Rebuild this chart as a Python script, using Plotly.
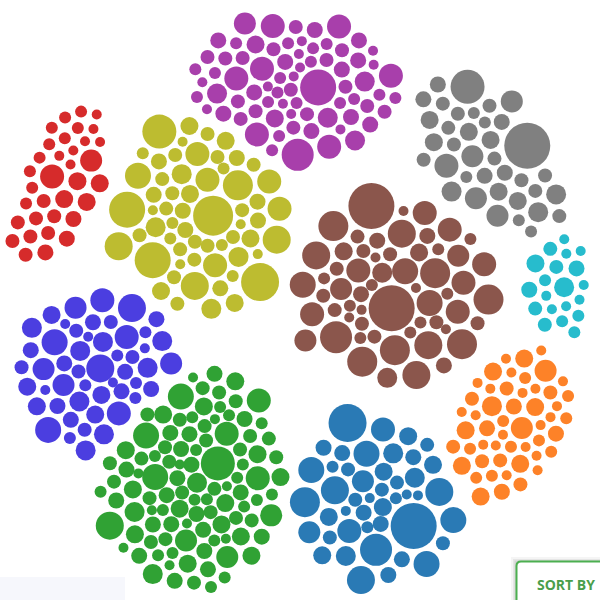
import numpy as np
import plotly.graph_objects as go

# ---------------- data: bubble values per series (radius ~ sqrt(value)) ----------------
purple_vals = [324, 256, 144, 144, 144, 144, 144, 144, 144, 121, 100, 100, 100, 100, 81, 81,
               64, 64, 64, 64, 64, 64, 64, 64, 64, 64, 64,
               49, 49, 49, 49, 49, 49, 49, 49, 49, 49, 49, 49, 49, 49, 49, 49,
               36, 36, 36, 36, 36, 36, 36, 36, 36, 36, 36, 36, 36, 36, 36, 36, 36, 36,
               25, 25, 25, 25, 25, 25, 25, 25, 25, 25, 25, 25]
gray_vals = [529, 289, 144, 121, 121, 121, 121, 100, 100, 100, 81, 81, 81, 81, 81, 81,
             64, 64, 64, 64, 64, 49, 49, 49, 49, 49, 49, 49, 49, 49, 49, 49,
             36, 36, 36, 36, 36]
red_vals = [144, 121, 81, 81, 81, 81, 64, 64, 64, 49, 49, 49, 49, 49, 49, 49, 49,
            36, 36, 36, 36, 36, 36, 36, 36, 36, 36, 25, 25, 25, 25, 25, 25, 25]
olive_vals = [400, 361, 324, 324, 289, 225, 196, 196, 196, 169, 144, 144, 144, 144, 144,
              100, 100, 100, 100, 81, 81, 81, 81, 81, 81, 64, 64, 64, 64, 64, 64, 64, 64,
              49, 49, 49, 49, 49, 49, 49, 49, 49, 49, 49, 49, 49, 49, 49, 49,
              36, 36, 36, 36, 36, 36, 25, 25, 25, 25, 25]
brown_vals = [529, 529, 256, 225, 225, 225, 225, 225, 225, 196, 196, 196, 196, 169, 169, 169,
              144, 144, 144, 144, 144, 144, 144, 121, 121, 121, 100, 100, 81, 81,
              64, 64, 64, 64, 49, 49, 49, 49, 49, 49, 49, 49, 49, 49,
              36, 36, 36, 36, 36, 36, 36, 36, 36, 25, 25, 25, 25, 25, 25]
cyan_vals = [100, 81, 64, 64, 49, 49, 49, 49, 36, 36, 36, 36, 25, 25, 25, 25, 25, 25, 25, 25]
violet_vals = [196, 196, 169, 169, 144, 144, 144, 121, 121, 121, 121, 100, 100, 100, 100, 100,
               100, 100, 100, 81, 81, 81, 81, 81, 64, 64, 64, 64, 64, 64, 64, 64, 64,
               49, 49, 49, 49, 49, 49, 36, 36, 36, 36, 36, 36, 25, 25, 25, 25, 25]
orange_vals = [121, 121, 100, 81, 81, 81, 81, 81, 81, 81, 64, 64, 64, 64,
               49, 49, 49, 49, 49, 49, 49, 36, 36, 36, 36, 36, 36, 36, 36, 36, 36,
               25, 25, 25, 25, 25, 25, 25, 25, 25, 25, 25, 25, 25, 25, 25, 25, 25, 25, 25, 25]
green_vals = [289, 196, 169, 169, 169, 144, 144, 144, 121, 121, 121, 100, 100, 100,
              81, 81, 81, 81, 81, 81, 81, 81, 81, 81, 81, 81, 81, 81,
              64, 64, 64, 64, 64, 64, 64, 64, 64, 64, 64, 64, 64, 64, 64, 64, 64, 64, 64, 64,
              49, 49, 49, 49, 49, 49, 49, 49, 49, 49, 49, 49, 49, 49, 49, 49, 49, 49, 49, 49,
              49, 49, 49, 49, 49,
              36, 36, 36, 36, 36, 36, 36, 36, 36, 36, 36, 36, 36, 36, 36, 36, 36, 36, 36, 36,
              25, 25, 25, 25, 25, 25, 25, 25, 25, 25]
blue_vals = [529, 361, 256, 225, 196, 196, 196, 169, 169, 169, 169, 144, 144, 121, 121,
             100, 100, 100, 81, 81, 81, 81, 81, 81, 64, 64, 64, 64, 64, 64, 64,
             49, 49, 49, 49, 49, 49, 49, 36, 36, 36, 25, 25, 25, 25]

series_names = ["Purple", "Gray", "Red", "Olive", "Brown", "Cyan", "Violet", "Orange", "Green", "Blue"]
series_values = [purple_vals, gray_vals, red_vals, olive_vals, brown_vals,
                 cyan_vals, violet_vals, orange_vals, green_vals, blue_vals]

# ---------------- styles / layout ----------------
colors = ["#a83fab", "#808080", "#d62b2b", "#bdbc30", "#8b564c",
          "#27bccd", "#4b3ee0", "#fd8228", "#30a234", "#2a7ab5"]
# cluster anchor (screen px, y down), orientation (deg) and elongation
anchors = np.array([[292, 88], [487, 155], [60, 185], [202, 213], [393, 290],
                    [558, 287], [102, 375], [510, 425], [192, 478], [373, 500]], float)
angles = [0, 49, -67, 90, 0, 90, 0, 118, 90, 0]
elong = [1.42, 1.8, 2.4, 1.3, 1.1, 1.6, 1.0, 1.6, 1.2, 1.0]

# ---------------- packed-bubble layout by simple force simulation ----------------
radii, gidx = [], []
for g, vals in enumerate(series_values):
    for v in vals:
        radii.append(np.sqrt(v))
        gidx.append(g)
R = np.array(radii)
G = np.array(gidx)
n = len(R)
A = anchors[G]
th = np.radians(np.array(angles, float))[G]
U = np.stack([np.cos(th), np.sin(th)], 1)
V = np.stack([-np.sin(th), np.cos(th)], 1)
E = np.array(elong)[G]
ku = 1.0 / E ** 2
kv = np.ones(n)

pos = np.zeros((n, 2))
golden = 2.399963
for g, vals in enumerate(series_values):
    idx = np.where(G == g)[0]
    m = len(idx)
    order = np.argsort([(k * 0.6180339) % 1.0 for k in range(m)])
    for k, p in enumerate(order):
        i = idx[p]
        rr = 5.0 * np.sqrt(k + 0.5)
        ang = k * golden
        pos[i] = anchors[g] + rr * np.array([np.cos(ang), np.sin(ang)])

same = G[:, None] == G[None, :]
pad = np.where(same, 5.0, 12.0)
minD = R[:, None] + R[None, :] + pad
np.fill_diagonal(minD, 0)
wmat = R[None, :] / (R[:, None] + R[None, :])

for it in range(450):
    k = 0.05 if it < 320 else 0.02
    off = A - pos
    ou = (off * U).sum(1)
    ov_ = (off * V).sum(1)
    pos += k * ((ku * ou)[:, None] * U + (kv * ov_)[:, None] * V)
    for _ in range(3):
        d = pos[:, None, :] - pos[None, :, :]
        dist = np.sqrt((d ** 2).sum(-1)) + 1e-9
        ov = minD - dist
        ov[ov < 0] = 0
        np.fill_diagonal(ov, 0)
        push = (ov / dist * wmat)[:, :, None] * d
        pos += push.sum(1) * 0.5

# ---------------- figure ----------------
fig = go.Figure()
for g, name in enumerate(series_names):
    idx = np.where(G == g)[0]
    fig.add_trace(go.Scatter(
        x=pos[idx, 0], y=pos[idx, 1], mode="markers", name=name,
        marker=dict(size=2 * R[idx], sizemode="diameter", color=colors[g],
                    line=dict(width=0), opacity=1),
        customdata=np.array(series_values[g]),
        hovertemplate=name + ": %{customdata}<extra></extra>",
    ))

shapes = [
    dict(type="rect", x0=-2, x1=125, y0=577, y1=602, fillcolor="#f6f7fc",
         line=dict(width=0), layer="below"),
]
for s, op in [(5, 0.04), (3, 0.06), (1.5, 0.08)]:
    shapes.append(dict(type="rect", x0=516 - s, x1=620, y0=561 - s + 1, y1=620,
                       fillcolor="rgba(0,0,0,%s)" % op, line=dict(width=0)))
shapes.append(dict(type="path",
                   path="M 516.5,620 L 516.5,566 Q 516.5,561.5 521,561.5 L 620,561.5 L 620,620 Z",
                   fillcolor="white", line=dict(color="#4caf50", width=2)))

fig.update_layout(
    width=600, height=600, autosize=False,
    margin=dict(l=0, r=0, t=0, b=0),
    paper_bgcolor="white", plot_bgcolor="white",
    showlegend=False,
    xaxis=dict(range=[0, 600], visible=False, fixedrange=True),
    yaxis=dict(range=[600, 0], visible=False, fixedrange=True),
    shapes=shapes,
    annotations=[dict(x=566, y=584, xref="x", yref="y", text="<b>SORT BY</b>",
                      showarrow=False, font=dict(family="Open Sans", size=14, color="#4a9e4c"))],
)
fig.write_html("out.html")
